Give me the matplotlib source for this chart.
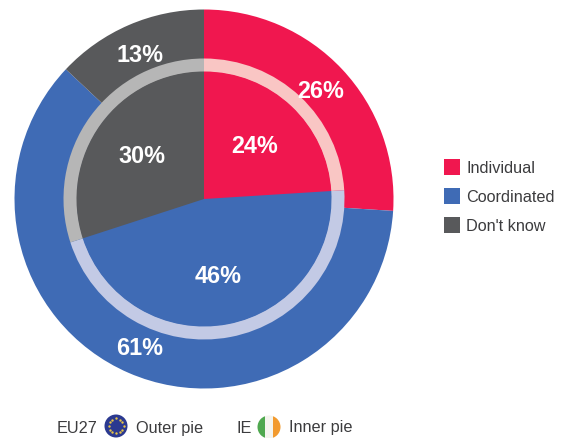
import matplotlib
matplotlib.use("Agg")
import matplotlib.pyplot as plt
import numpy as np
from matplotlib.patches import Circle, Rectangle

categories = ["Individual", "Coordinated", "Don't know"]
eu27 = [26, 61, 13]
ie = [24, 46, 30]
colors = ["#F0174F", "#3F6BB5", "#58595B"]
ring_colors = ["#F9C6C4", "#C3CAE5", "#B6B6B6"]
text_color = "#3C3C3E"

plt.rcParams["font.family"] = ["Liberation Sans", "DejaVu Sans"]

fig = plt.figure(figsize=(5.66, 4.39), dpi=100)
ax = fig.add_axes([0, 0, 1, 1])
ax.set_xlim(0, 566)
ax.set_ylim(439, 0)
ax.set_aspect("equal")
ax.axis("off")


# pie() is drawn on an inverted y axis here, so counterclock=True runs clockwise on screen
def ring(values, cols, radius, width=None):
    props = {"linewidth": 0}
    if width is not None:
        props["width"] = width
    return ax.pie(values, colors=cols, radius=radius, center=(204, 200), startangle=-90,
                  counterclock=True, wedgeprops=props, frame=False)


ring(eu27, colors, 189.5)
ring(ie, ring_colors, 140.5, 13.5)
ring(ie, colors, 127.5)
ax.set_xlim(0, 566)
ax.set_ylim(439, 0)
ax.axis("off")

# value labels
label_font = dict(family="Liberation Sans", fontsize=16.8, fontweight="bold", color="white",
                  ha="center", va="center")
for x, y, v in zip([321, 140, 140], [91, 349, 55], eu27):
    ax.text(x, y, f"{v}%", **label_font)
for x, y, v in zip([255, 218, 142], [147, 277, 157], ie):
    ax.text(x, y, f"{v}%", **label_font)

# legend
for y, c, name in zip([168, 197, 226], colors, categories):
    ax.add_patch(Rectangle((444, y - 8), 16, 16, color=c, lw=0))
    ax.text(466, y + 1, name, fontsize=11.7, color=text_color, va="center", ha="left")

# bottom key
ax.text(57, 429, "EU27", fontsize=11.7, color=text_color, va="center")
ax.text(136, 429, "Outer pie", fontsize=11.7, color=text_color, va="center")
ax.text(236, 429, "IE", fontsize=11.7, color=text_color, va="center")
ax.text(289, 428, "Inner pie", fontsize=11.7, color=text_color, va="center")

# EU flag
ax.add_patch(Circle((116, 427), 11.5, color="#2B3990", lw=0))
star_angles = np.deg2rad(np.arange(0, 360, 30))
ax.scatter(116 + 7.5 * np.cos(star_angles), 427 + 7.5 * np.sin(star_angles), s=3,
           color="#E8C547", linewidths=0, zorder=3)

# Irish flag
clip = Circle((269, 428), 11.5, transform=ax.transData)
for x, c in zip([257, 265, 273], ["#4FA84F", "#F4F4EE", "#F29A2E"]):
    band = Rectangle((x, 416), 8, 24, color=c, lw=0)
    ax.add_patch(band)
    band.set_clip_path(clip)

fig.savefig("out.png", dpi=100)
